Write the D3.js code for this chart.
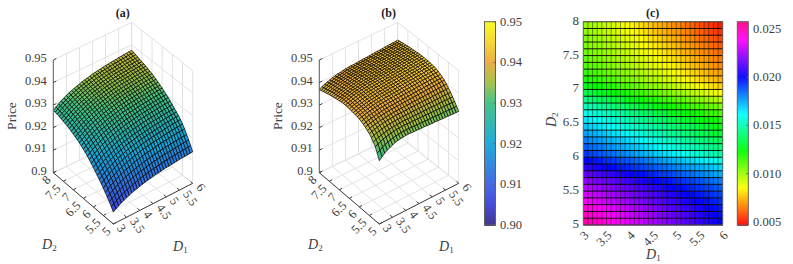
<!DOCTYPE html>
<meta charset="utf-8">
<style>
  body { margin: 0; background: #fff; }
  text { font-family: "Liberation Serif", serif; fill: #404040; }
</style>
<script src="https://d3js.org/d3.v7.min.js"></script>
<div id="my_dataviz"></div>
<script>
// tick labels
var d1Ticks = [3, 3.5, 4, 4.5, 5, 5.5, 6];
var d2Ticks = [5, 5.5, 6, 6.5, 7, 7.5, 8];
var priceTicks = [0.9, 0.91, 0.92, 0.93, 0.94, 0.95];
var barTicksB = ["0.90", "0.91", "0.92", "0.93", "0.94", "0.95"];
var barTicksC = ["0.005", "0.010", "0.015", "0.020", "0.025"];

// price surfaces, (price - 0.9) * 10000, rows D2 = 5..8, columns D1 = 3..6, step 0.1
var surfaceA = [
[53,61,68,75,81,86,91,96,100,103,107,110,113,116,118,121,123,124,126,128,130,130,132,133,134,136,137,137,138,139,140],
[69,77,84,92,98,104,109,114,118,122,125,129,132,135,137,140,142,144,145,147,149,150,152,153,154,155,156,157,158,159,160],
[83,92,99,107,113,119,125,130,134,138,142,146,149,151,154,157,159,161,163,165,167,168,169,170,171,173,174,175,176,177,178],
[96,105,113,121,128,134,140,145,149,153,157,161,164,167,170,173,175,177,179,181,183,184,186,187,188,190,191,192,193,194,195],
[109,118,127,135,142,149,155,160,165,169,173,178,181,184,187,190,192,194,196,198,201,202,204,205,206,208,209,210,211,212,213],
[121,131,139,148,155,161,168,173,178,182,187,191,194,197,201,204,206,208,210,212,214,215,217,219,220,222,223,224,225,226,227],
[133,143,151,160,167,174,180,185,191,195,199,204,207,210,213,216,219,221,223,225,227,228,230,231,233,235,236,237,238,239,240],
[144,154,162,171,178,184,191,196,201,205,210,214,217,220,224,227,229,231,233,235,237,238,240,242,243,245,246,247,248,249,250],
[155,164,173,181,188,195,201,206,211,215,219,224,227,230,233,236,238,240,242,244,247,248,250,251,252,254,255,256,257,258,259],
[165,174,183,191,198,204,210,215,221,225,229,233,236,239,242,245,247,249,252,254,256,257,259,260,261,263,264,265,266,267,268],
[175,184,192,201,208,214,220,225,230,234,238,242,245,248,252,255,257,259,261,263,265,266,268,269,270,272,273,274,275,276,277],
[185,194,202,210,217,223,229,234,239,243,248,252,255,258,261,264,266,268,270,272,274,275,277,278,279,281,282,283,284,285,286],
[194,203,211,219,226,232,238,243,248,252,256,260,263,266,269,272,274,276,278,280,282,283,285,286,287,289,290,291,292,293,294],
[203,212,220,228,234,240,246,251,256,260,264,268,271,274,277,279,281,283,285,287,289,290,292,293,294,296,297,298,299,300,301],
[211,220,227,235,242,248,254,259,263,267,271,275,278,281,284,287,289,291,292,294,296,297,299,300,301,303,304,305,306,307,308],
[218,227,234,242,249,255,261,266,270,274,278,282,285,288,291,294,296,298,299,301,303,304,306,307,308,310,311,312,313,314,315],
[225,234,241,249,256,261,267,272,277,281,285,288,291,294,297,300,302,304,306,308,309,310,312,313,314,316,317,318,319,320,321],
[231,240,247,255,262,267,273,278,283,287,291,294,297,300,303,306,308,310,312,314,315,316,318,319,320,322,323,324,325,326,327],
[237,246,253,261,268,273,279,284,289,293,297,300,303,306,309,312,314,316,318,320,321,322,324,325,326,328,329,330,331,332,333],
[242,251,258,266,273,278,284,289,294,298,302,305,308,311,314,317,319,321,323,325,326,327,329,330,331,333,334,335,336,337,338],
[247,256,263,271,278,283,289,294,299,303,307,310,313,316,319,322,324,326,328,330,331,332,334,335,336,338,339,340,341,342,343],
[252,261,268,276,282,288,294,299,303,307,311,315,318,320,323,326,328,330,332,334,336,337,338,339,340,342,343,344,345,346,347],
[256,265,272,280,286,292,298,303,307,311,315,319,322,324,327,330,332,334,336,338,340,341,342,343,344,346,347,348,349,350,351],
[260,269,276,284,290,296,302,307,311,315,319,323,326,328,331,334,336,338,340,342,344,345,346,347,348,350,351,352,353,354,355],
[263,272,279,287,293,299,305,310,314,318,322,326,329,331,334,337,339,341,343,345,347,348,349,350,351,353,354,355,356,357,358],
[266,275,282,290,296,302,308,313,317,321,325,329,332,334,337,340,342,344,346,348,350,351,352,353,354,356,357,358,359,360,361],
[269,278,285,293,299,305,311,316,320,324,328,332,335,337,340,343,345,347,349,351,353,354,355,356,357,359,360,361,362,363,364],
[271,280,287,295,302,307,313,318,323,327,331,334,337,340,343,346,348,350,352,354,355,356,358,359,360,362,363,364,365,366,367],
[274,283,290,298,305,310,316,321,326,330,334,337,340,343,346,349,351,353,355,357,358,359,361,362,363,365,366,367,368,369,370],
[276,285,292,300,307,313,319,324,328,332,336,340,343,346,349,352,354,356,357,359,361,362,364,365,366,368,369,370,371,372,373],
[277,286,294,302,309,315,321,326,330,334,338,342,345,348,351,354,356,358,360,362,364,365,367,368,369,371,372,373,374,375,376]
];

var surfaceB = [
[281,292,302,309,315,320,325,328,330,331,333,333,332,331,331,330,329,329,328,327,326,326,325,324,323,323,322,321,320,320,319],
[306,314,322,327,332,335,339,341,342,344,344,345,344,344,343,342,342,341,341,340,340,339,339,338,337,337,336,336,335,335,334],
[327,334,339,344,347,350,352,354,356,356,357,357,357,356,356,355,355,355,354,354,353,353,352,352,352,351,351,350,350,349,349],
[340,346,350,353,356,359,361,363,363,365,365,366,366,365,365,365,365,365,364,364,364,364,364,363,363,363,363,363,362,362,362],
[353,357,361,364,367,369,371,372,373,374,375,375,375,375,375,375,375,375,375,375,375,375,375,375,375,375,375,375,375,375,375],
[363,367,370,373,375,378,380,381,382,383,384,384,384,384,384,385,385,385,385,385,385,385,385,385,385,386,386,386,386,386,386],
[369,373,377,379,381,384,385,386,388,389,390,391,391,391,392,392,392,393,393,393,394,394,394,395,395,395,396,396,396,397,397],
[376,380,383,386,388,391,392,394,395,396,397,398,398,399,399,400,400,401,401,402,402,403,403,404,404,405,405,406,406,407,407],
[381,385,388,391,392,395,396,398,400,400,402,402,403,403,404,405,405,406,406,407,407,408,408,409,410,410,411,411,412,412,413],
[386,390,393,396,397,400,402,403,405,405,407,408,408,409,409,410,411,411,412,412,413,414,414,415,415,416,417,417,418,418,419],
[390,394,397,400,402,404,406,407,409,410,411,412,413,413,414,414,415,416,416,417,418,418,419,420,420,421,421,422,423,423,424],
[392,396,399,402,404,407,408,410,412,412,414,415,415,416,417,418,418,419,420,420,421,422,422,423,424,425,425,426,427,427,428],
[394,398,401,404,406,409,410,412,414,415,416,417,418,419,419,420,421,421,422,423,424,424,425,426,427,427,428,429,430,430,431],
[395,399,403,405,407,410,412,413,415,416,418,418,419,420,421,422,422,423,424,425,425,426,427,428,428,429,430,431,431,432,433],
[396,400,404,406,408,411,413,414,416,417,419,419,420,421,422,423,423,424,425,426,426,427,428,429,429,430,431,432,432,433,434],
[397,401,405,407,409,412,414,415,417,418,420,420,421,422,423,424,424,425,426,427,427,428,429,430,430,431,432,433,433,434,435],
[398,402,405,408,411,414,415,417,419,419,421,422,422,423,424,425,425,426,427,427,428,429,429,430,431,432,432,433,434,434,435],
[398,402,405,408,411,414,415,417,419,420,421,422,423,424,424,425,426,426,427,428,429,429,430,431,432,432,433,434,435,435,436],
[398,402,405,409,412,414,416,418,419,420,422,423,423,424,425,426,426,427,428,428,429,430,430,431,432,433,433,434,435,435,436],
[397,402,405,408,411,414,415,417,419,420,422,423,423,424,425,426,426,427,428,428,429,430,430,431,432,433,433,434,435,435,436],
[395,400,403,407,410,413,414,416,418,419,421,422,422,423,424,425,425,426,427,427,428,429,429,430,431,432,432,433,434,434,435],
[393,398,401,405,408,411,413,415,417,418,420,421,421,422,423,424,424,425,426,426,427,428,428,429,430,431,431,432,433,433,434],
[391,396,400,404,407,410,412,414,416,417,419,420,420,421,422,423,423,424,425,425,426,427,427,428,429,430,430,431,432,432,433],
[389,394,398,402,406,409,411,413,415,416,418,419,419,420,421,422,422,423,424,424,425,426,426,427,428,429,429,430,431,431,432],
[386,392,396,400,403,407,408,411,413,415,416,417,418,419,419,420,421,421,422,423,424,424,425,426,427,427,428,429,430,430,431],
[384,390,394,398,402,405,407,410,412,414,415,416,417,418,418,419,420,420,421,422,423,423,424,425,426,426,427,428,429,429,430],
[381,387,391,396,400,403,405,408,410,412,413,414,415,416,416,417,418,418,419,420,421,421,422,423,424,424,425,426,427,427,428],
[378,384,390,393,397,401,404,405,408,410,411,412,413,414,415,416,416,417,418,419,419,420,421,422,422,423,424,425,425,426,427],
[375,381,387,391,395,398,402,403,406,408,409,410,411,412,413,414,414,415,416,417,417,418,419,420,420,421,422,423,423,424,425],
[372,379,384,388,392,396,399,401,403,406,407,408,409,410,411,412,412,413,414,415,415,416,417,418,418,419,420,421,421,422,423],
[369,376,381,385,389,393,396,399,400,403,404,406,407,407,408,409,410,411,411,412,413,414,415,415,416,417,418,419,419,420,421]
];

// heat map cells, value * 10000, rows from D2 = 5 upward, columns from D1 = 3
var heatC = [
[251,249,247,246,244,242,240,239,237,235,233,232,230,228,226,225,223,221,219,218,216,214,212,211,209,207,205,204,202,200],
[248,246,245,243,241,239,238,236,234,232,231,229,227,226,224,222,220,219,217,215,214,212,210,208,207,205,203,202,200,198],
[244,242,241,239,237,236,234,232,231,229,227,226,224,222,221,219,217,216,214,212,211,209,208,206,204,203,201,199,198,196],
[238,236,235,233,232,230,229,227,226,224,222,221,219,218,216,215,213,212,210,209,207,205,204,202,201,199,198,196,195,193],
[233,232,230,229,227,226,224,223,221,220,218,217,215,214,212,211,209,208,206,205,203,202,200,199,197,196,194,193,191,190],
[228,227,225,224,222,221,219,218,216,215,214,212,211,209,208,206,205,203,202,200,199,198,196,195,193,192,190,189,187,186],
[222,221,219,218,216,215,214,212,211,209,208,206,205,204,202,201,199,198,197,195,194,192,191,190,188,187,185,184,182,181],
[215,214,212,211,209,208,207,205,204,202,201,199,198,197,195,194,192,191,190,188,187,185,184,183,181,180,178,177,175,174],
[207,206,204,203,201,200,199,197,196,195,193,192,190,189,188,186,185,184,182,181,179,178,177,175,174,173,171,170,168,167],
[200,199,197,196,194,193,191,190,188,187,186,184,183,181,180,178,177,175,174,172,171,170,168,167,165,164,162,161,159,158],
[192,190,189,187,186,184,183,181,180,178,177,175,174,172,171,169,168,166,165,163,162,160,159,157,156,154,153,151,150,148],
[186,184,183,181,180,178,177,175,174,172,171,169,168,166,165,163,162,160,159,157,156,154,153,151,150,148,147,145,144,142],
[181,179,178,176,175,173,172,170,169,167,165,164,162,161,159,158,156,155,153,152,150,148,147,145,144,142,141,139,138,136],
[176,174,173,171,170,168,166,165,163,162,160,159,157,155,154,152,151,149,147,146,144,143,141,139,138,136,135,133,132,130],
[170,168,167,165,164,162,161,159,158,156,155,153,152,150,149,147,146,144,143,141,140,138,137,135,134,132,131,129,128,126],
[165,163,162,160,159,157,155,154,152,151,149,148,146,144,143,141,140,138,136,135,133,132,130,128,127,125,124,122,121,119],
[160,158,157,155,153,152,150,148,147,145,143,142,140,138,137,135,133,132,130,128,127,125,124,122,120,119,117,115,114,112],
[152,150,149,147,145,144,142,140,139,137,135,134,132,130,129,127,125,124,122,120,119,117,116,114,112,111,109,107,106,104],
[143,141,140,138,136,135,133,131,130,128,126,125,123,121,120,118,116,115,113,111,110,108,107,105,103,102,100,98,97,95],
[135,133,132,130,128,126,125,123,121,119,118,116,114,113,111,109,107,106,104,102,101,99,97,95,94,92,90,89,87,85],
[127,125,124,122,120,119,117,115,113,112,110,108,107,105,103,102,100,98,97,95,93,91,90,88,86,85,83,81,80,78],
[120,118,117,115,114,112,110,109,107,105,104,102,101,99,97,96,94,92,91,89,88,86,84,83,81,79,78,76,75,73],
[116,114,113,111,110,108,106,105,103,102,100,99,97,95,94,92,91,89,87,86,84,83,81,79,78,76,75,73,72,70],
[112,110,109,107,106,104,103,101,100,98,96,95,93,92,90,89,87,86,84,83,81,79,78,76,75,73,72,70,69,67],
[109,107,106,104,103,101,100,98,97,95,94,92,91,89,88,86,85,83,82,80,79,77,76,74,73,71,70,68,67,65],
[107,105,104,102,101,99,98,96,95,93,91,90,88,87,85,84,82,81,79,78,76,74,73,71,70,68,67,65,64,62],
[105,103,102,100,99,97,96,94,93,91,89,88,86,85,83,82,80,79,77,76,74,72,71,69,68,66,65,63,62,60],
[104,102,101,99,98,96,94,93,91,89,88,86,85,83,81,80,78,76,75,73,72,70,68,67,65,63,62,60,59,57],
[102,100,99,97,95,94,92,90,89,87,85,84,82,80,79,77,75,74,72,70,69,67,66,64,62,61,59,57,56,54],
[101,99,98,96,94,92,91,89,87,85,84,82,80,79,77,75,73,72,70,68,67,65,63,61,60,58,56,55,53,51]
];

var svg = d3.select("#my_dataviz").append("svg")
    .attr("width", 793)
    .attr("height", 264)
    .style("display", "block");

// colour maps
var parula = d3.scaleLinear()
    .domain([0.9, 0.905, 0.91, 0.92, 0.93, 0.935, 0.94, 0.945, 0.95])
    .range(["#352a87", "#3a40d8", "#3a5fe0", "#12a5d8", "#3cc080", "#a0bf40", "#eaa83a", "#f5d52a", "#f9fb15"])
    .clamp(true);
var hue = d3.scaleLinear().domain([0.00466, 0.02576]).range([0, 330]).clamp(true);
function hsvColor(v) { return d3.hsl(hue(v), 1, 0.5).formatHex(); }

var xs = d3.scaleLinear().domain([3, 6]).range([0, 1]);
var ys = d3.scaleLinear().domain([5, 8]).range([0, 1]);
var zs = d3.scaleLinear().domain([0.9, 0.95]).range([0, 112.7]);
var gridIdx = d3.range(31);
var axisCol = "#404040", wallCol = "#e2e2e2";

function drawSurface(dx, table, title) {
  var g = svg.append("g").attr("transform", "translate(" + dx + ",0)");
  // floor corners: front, right, left, back
  var F = [113.3, 224], R = [192.7, 183.3], L = [53.3, 172.7], B = [131.7, 135];
  function proj(d1, d2, z) {
    var u = xs(d1), v = ys(d2);
    var px = (1 - u) * (1 - v) * F[0] + u * (1 - v) * R[0] + (1 - u) * v * L[0] + u * v * B[0];
    var py = (1 - u) * (1 - v) * F[1] + u * (1 - v) * R[1] + (1 - u) * v * L[1] + u * v * B[1];
    return [px, py - zs(z)];
  }
  function seg(a, b, col, w) {
    g.append("line").attr("x1", a[0]).attr("y1", a[1]).attr("x2", b[0]).attr("y2", b[1])
      .attr("stroke", col).attr("stroke-width", w);
  }
  // walls and floor grid
  d1Ticks.forEach(function(t) {
    seg(proj(t, 5, 0.9), proj(t, 8, 0.9), wallCol, 1);
    seg(proj(t, 8, 0.9), proj(t, 8, 0.95), wallCol, 1);
  });
  d2Ticks.forEach(function(t) {
    seg(proj(3, t, 0.9), proj(6, t, 0.9), wallCol, 1);
    seg(proj(6, t, 0.9), proj(6, t, 0.95), wallCol, 1);
  });
  priceTicks.forEach(function(t) {
    seg(proj(3, 8, t), proj(6, 8, t), wallCol, 1);
    seg(proj(6, 8, t), proj(6, 5, t), wallCol, 1);
  });
  // mesh, back to front
  var quads = [];
  d3.range(29, -1, -1).forEach(function(j) {
    d3.range(29, -1, -1).forEach(function(i) { quads.push([i, j]); });
  });
  function zAt(i, j) { return 0.9 + table[j][i] / 10000; }
  function gridPt(i, j) { return proj(3 + i * 0.1, 5 + j * 0.1, zAt(i, j)); }
  g.append("g").selectAll("path").data(quads).enter().append("path")
    .attr("d", function(q) {
      var i = q[0], j = q[1];
      return "M" + [gridPt(i, j), gridPt(i + 1, j), gridPt(i + 1, j + 1), gridPt(i, j + 1)].join("L") + "Z";
    })
    .attr("fill", function(q) {
      var i = q[0], j = q[1];
      return parula((zAt(i, j) + zAt(i + 1, j) + zAt(i + 1, j + 1) + zAt(i, j + 1)) / 4);
    })
    .attr("stroke", "#000").attr("stroke-width", 0.7).attr("stroke-linejoin", "round");

  // axes
  seg(proj(3, 8, 0.9), proj(3, 8, 0.95), "#606060", 1);
  seg(proj(3, 5, 0.9), proj(3, 8, 0.9), axisCol, 1);
  seg(proj(3, 5, 0.9), proj(6, 5, 0.9), axisCol, 1);
  priceTicks.forEach(function(t) {
    var p = proj(3, 8, t);
    seg(p, [p[0] + 3, p[1] - 1.5], axisCol, 1);
    g.append("text").attr("x", p[0] - 6.5).attr("y", p[1] + 2).attr("text-anchor", "end")
      .attr("font-size", 12.5).text(t);
  });
  d1Ticks.forEach(function(t) {
    var p = proj(t, 5, 0.9);
    seg(p, [p[0] - 2.3, p[1] - 2], axisCol, 1);
    g.append("text").attr("font-size", 12.5)
      .attr("transform", "translate(" + (p[0] + 3) + "," + (p[1] + 4) + ") rotate(55)")
      .text(t);
  });
  d2Ticks.forEach(function(t) {
    var p = proj(3, t, 0.9);
    seg(p, [p[0] + 2.7, p[1] - 1.5], axisCol, 1);
    g.append("text").attr("font-size", 12.5).attr("text-anchor", "end")
      .attr("transform", "translate(" + (p[0] - 2) + "," + (p[1] + 8) + ") rotate(-45)")
      .text(t);
  });
  // axis names and title
  g.append("text").attr("font-size", 13.5).attr("text-anchor", "middle")
    .attr("transform", "translate(16,116) rotate(-90)").text("Price");
  subLabel(g, 173, 251, "1", 0);
  subLabel(g, 42, 249, "2", 0);
  g.append("text").attr("x", 122.7).attr("y", 17).attr("text-anchor", "middle")
    .attr("font-size", 12).attr("font-weight", "bold").style("fill", "#222").text(title);
}

function subLabel(g, x, y, sub, rot) {
  var t = g.append("text").attr("font-size", 14)
    .attr("transform", "translate(" + x + "," + y + ") rotate(" + rot + ")");
  t.append("tspan").attr("font-style", "italic").text("D");
  t.append("tspan").attr("font-size", 9).attr("dy", 2).text(sub);
}

drawSurface(0, surfaceA, "(a)");
drawSurface(266, surfaceB, "(b)");

// colour bar for b
function drawBar(x0, x1, y0, y1, colour, domain, vals, labels, labelX) {
  var bar = svg.append("g");
  var y = d3.scaleLinear().domain(domain).range([y1, y0]);
  var steps = d3.range(0, 204);
  bar.selectAll("rect").data(steps).enter().append("rect")
    .attr("x", x0).attr("width", x1 - x0)
    .attr("y", function(s) { return y0 + s; })
    .attr("height", 1.2)
    .attr("fill", function(s) { return colour(y.invert(y0 + s + 0.5)); });
  bar.append("rect").attr("x", x0).attr("y", y0).attr("width", x1 - x0).attr("height", y1 - y0)
    .attr("fill", "none").attr("stroke", "#606060").attr("stroke-width", 1);
  vals.forEach(function(v, i) {
    bar.append("line").attr("x1", x1 - 2).attr("x2", x1).attr("y1", y(v)).attr("y2", y(v))
      .attr("stroke", "#606060");
    bar.append("text").attr("x", labelX).attr("y", y(v) + 4).attr("font-size", 12.5).text(labels[i]);
  });
}
drawBar(484.5, 495.5, 21.7, 225, parula, [0.9, 0.95], [0.9, 0.91, 0.92, 0.93, 0.94, 0.95], barTicksB, 500);

// heat map c
var heatX = d3.scaleLinear().domain([3, 6]).range([583.3, 722.7]);
var heatY = d3.scaleLinear().domain([5, 8]).range([225, 21.7]);
var heat = svg.append("g");
var cells = [];
heatC.forEach(function(row, j) { row.forEach(function(v, i) { cells.push({ i: i, j: j, v: v / 10000 }); }); });
heat.selectAll("rect").data(cells).enter().append("rect")
  .attr("x", function(d) { return heatX(3 + d.i * 0.1); })
  .attr("y", function(d) { return heatY(5 + (d.j + 1) * 0.1); })
  .attr("width", function(d) { return heatX(3.1) - heatX(3) + 0.3; })
  .attr("height", function(d) { return heatY(5) - heatY(5.1) + 0.3; })
  .attr("fill", function(d) { return hsvColor(d.v); });
gridIdx.forEach(function(k) {
  heat.append("line").attr("x1", heatX(3 + k * 0.1)).attr("x2", heatX(3 + k * 0.1))
    .attr("y1", 21.7).attr("y2", 225).attr("stroke", "#000").attr("stroke-width", 0.6).attr("stroke-opacity", 0.75);
  heat.append("line").attr("x1", 583.3).attr("x2", 722.7)
    .attr("y1", heatY(5 + k * 0.1)).attr("y2", heatY(5 + k * 0.1)).attr("stroke", "#000").attr("stroke-width", 0.9);
});
heat.append("rect").attr("x", 583.3).attr("y", 21.7).attr("width", 139.4).attr("height", 203.3)
  .attr("fill", "none").attr("stroke", "#707070").attr("stroke-width", 0.8);
d1Ticks.forEach(function(t) {
  heat.append("text").attr("font-size", 12.5).attr("text-anchor", "end")
    .attr("transform", "translate(" + (heatX(t) + 6) + ",236) rotate(-45)").text(t);
});
d2Ticks.forEach(function(t) {
  heat.append("text").attr("x", 579).attr("y", heatY(t) + 3).attr("font-size", 13)
    .attr("text-anchor", "end").text(t);
});
heat.append("text").attr("x", 652.7).attr("y", 17).attr("text-anchor", "middle")
  .attr("font-size", 12).attr("font-weight", "bold").style("fill", "#222").text("(c)");
subLabel(heat, 646, 259, "1", 0);
subLabel(heat, 556, 127, "2", -90);

drawBar(737.3, 748.3, 21.7, 225, hsvColor, [0.00466, 0.02576], [0.005, 0.01, 0.015, 0.02, 0.025], barTicksC, 753);
</script>
